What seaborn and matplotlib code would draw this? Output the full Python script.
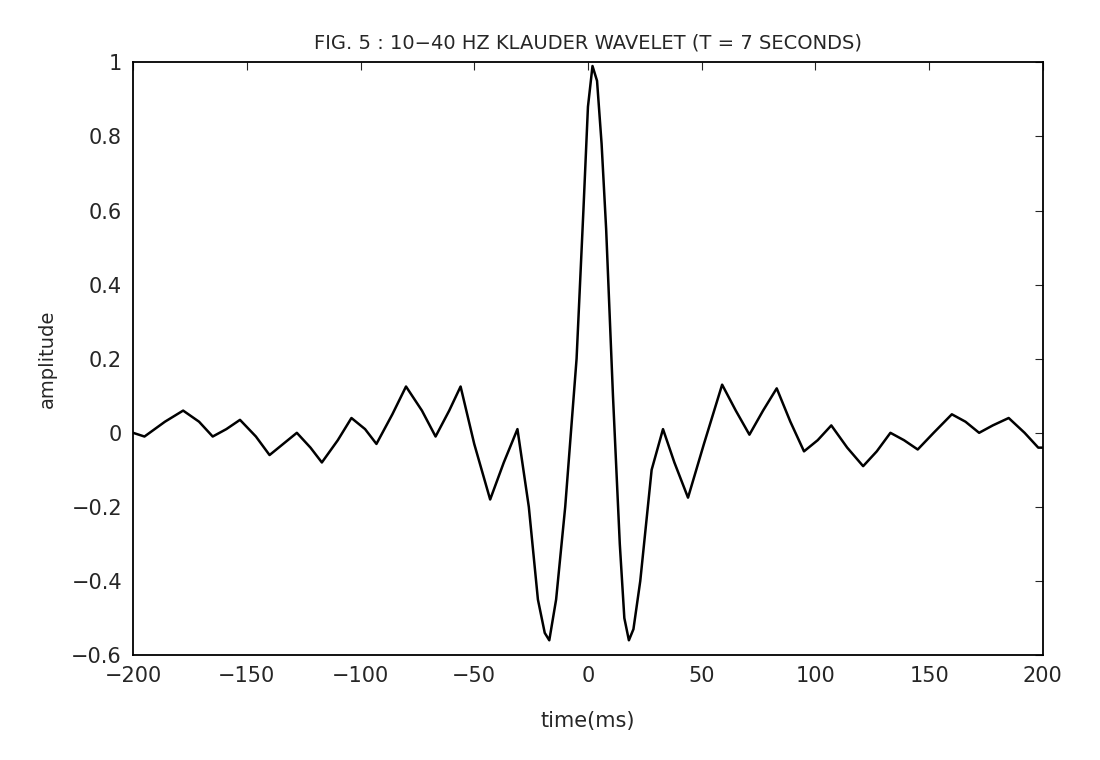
import matplotlib
matplotlib.use("Agg")
import matplotlib.pyplot as plt
import seaborn as sns

# values (extrema plus a few in-between points)
time_ms = [-200, -195, -186, -178, -171, -165, -159, -153, -146, -140, -134, -128, -122, -117,
           -110, -104, -98, -93, -86, -80, -73, -67, -61, -56, -50, -43, -37, -31, -26, -22,
           -19, -17, -14, -10, -5, -2, 0, 2, 4, 6, 8, 11, 14, 16, 18, 20, 23, 28, 33, 38, 44,
           51, 59, 65, 71, 77, 83, 89, 95, 101, 107, 114, 121, 127, 133, 139, 145, 152, 160,
           166, 172, 178, 185, 192, 198, 200]
amplitude = [0.0, -0.01, 0.03, 0.06, 0.03, -0.01, 0.01, 0.035, -0.01, -0.06, -0.03, 0.0, -0.04, -0.08,
             -0.02, 0.04, 0.01, -0.03, 0.05, 0.125, 0.06, -0.01, 0.06, 0.125, -0.03, -0.18, -0.08, 0.01, -0.2, -0.45,
             -0.54, -0.56, -0.45, -0.2, 0.2, 0.6, 0.88, 0.99, 0.95, 0.78, 0.55, 0.1, -0.3, -0.5, -0.56, -0.53, -0.4, -0.1, 0.01, -0.08, -0.175,
             -0.03, 0.13, 0.06, -0.005, 0.06, 0.12, 0.03, -0.05, -0.02, 0.02, -0.04, -0.09, -0.05, 0.0, -0.02, -0.045, 0.0, 0.05,
             0.03, 0.0, 0.02, 0.04, 0.0, -0.04, -0.04]

sns.set_style("white")
fig = plt.figure(figsize=(11, 7.6), dpi=100)
ax = fig.add_axes([0.121, 0.138, 0.827, 0.78])
sns.lineplot(x=time_ms, y=amplitude, ax=ax, color="black", linewidth=1.8)

ax.set_xlim(-200, 200)
ax.set_ylim(-0.6, 1)
ax.set_xticks(range(-200, 201, 50))
ax.set_yticks([-0.6, -0.4, -0.2, 0, 0.2, 0.4, 0.6, 0.8, 1])
ax.set_yticklabels(["\u22120.6", "\u22120.4", "\u22120.2", "0", "0.2", "0.4", "0.6", "0.8", "1"])
ax.set_xticklabels(["\u2212200", "\u2212150", "\u2212100", "\u221250", "0", "50", "100", "150", "200"])
ax.tick_params(axis="both", labelsize=15, direction="in", length=6, top=True, right=True, pad=8)
for s in ax.spines.values():
    s.set_color("black")
    s.set_linewidth(1.3)
ax.set_xlabel("time(ms)", fontsize=15, labelpad=18)
ax.set_ylabel("amplitude", fontsize=14, labelpad=10)
ax.set_title("FIG. 5 : 10\u221240 HZ KLAUDER WAVELET (T = 7 SECONDS)", fontsize=14, pad=10)

fig.savefig("out.png", dpi=100)
